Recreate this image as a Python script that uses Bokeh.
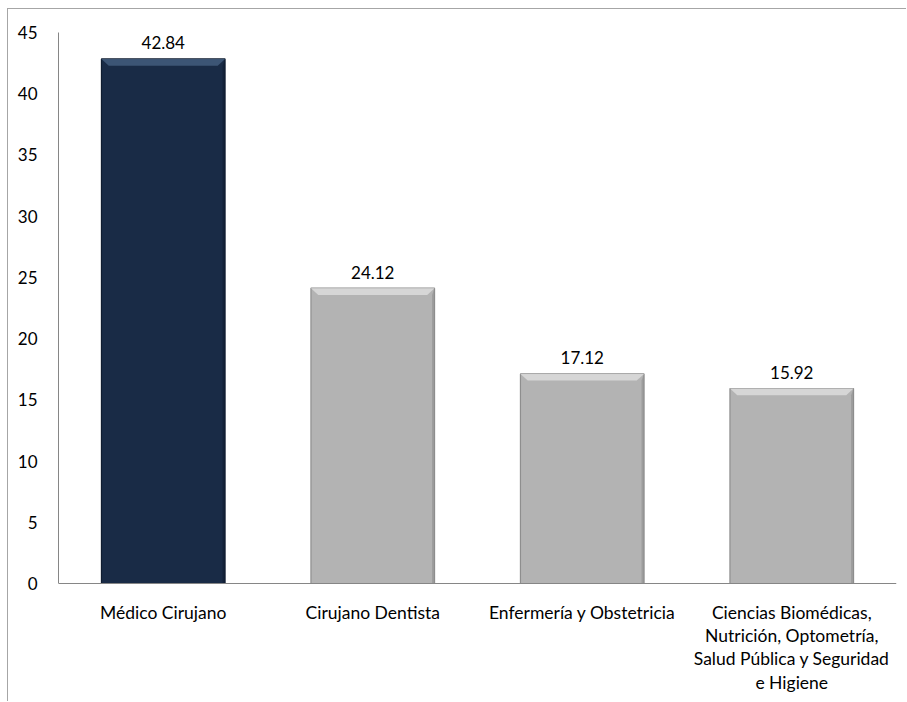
from bokeh.plotting import figure
from bokeh.models import Range1d, FixedTicker, LabelSet, ColumnDataSource, Span
from bokeh.core.properties import value
from bokeh.embed import file_html
from bokeh.resources import INLINE

categories = ["Médico Cirujano", "Cirujano Dentista", "Enfermería y Obstetricia",
              "Ciencias Biomédicas, Nutrición, Optometría, Salud Pública y Seguridad e Higiene"]
category_lines = [["Médico Cirujano"], ["Cirujano Dentista"], ["Enfermería y Obstetricia"],
                  ["Ciencias Biomédicas,", "Nutrición, Optometría,", "Salud Pública y Seguridad", "e Higiene"]]
values = [42.84, 24.12, 17.12, 15.92]
value_labels = ["42.84", "24.12", "17.12", "15.92"]
y_ticks = [0, 5, 10, 15, 20, 25, 30, 35, 40, 45]
y_max = 45

bar_colors = ["#192b46", "#b3b3b3", "#b3b3b3", "#b3b3b3"]
edge_colors = ["#0f1c30", "#8e8e8e", "#8e8e8e", "#8e8e8e"]
bevel_colors = ["#405a7a", "#d9d9d9", "#d9d9d9", "#d9d9d9"]
FONT = "Lato"

H = 693
TOP = 23
AXIS_PX = 551  # pixel height of 0..45
frame_h = H - TOP
y_start = -y_max * (frame_h - AXIS_PX) / AXIS_PX

p = figure(width=899, height=H, output_backend="svg", toolbar_location=None,
           x_range=Range1d(0, len(categories)), y_range=Range1d(y_start, y_max),
           min_border_left=50, min_border_right=11, min_border_top=TOP, min_border_bottom=0)
p.styles = {"border-top": "1px solid #a6a6a6", "border-left": "1px solid #a6a6a6",
            "margin-left": "7px", "margin-top": "8px"}
p.outline_line_color = None
p.grid.grid_line_color = None
p.background_fill_color = "white"
p.border_fill_color = "white"
p.xaxis.visible = False

# y axis
p.yaxis.ticker = FixedTicker(ticks=y_ticks)
p.yaxis.bounds = (0, y_max)
p.yaxis.major_tick_out = 0
p.yaxis.major_tick_in = 0
p.yaxis.minor_tick_out = 0
p.yaxis.minor_tick_in = 0
p.yaxis.major_label_standoff = 21
p.yaxis.axis_line_color = "#868686"
p.yaxis.major_label_text_font = FONT
p.yaxis.major_label_text_font_size = "17px"
p.yaxis.major_label_text_color = "#000000"

# baseline
p.add_layout(Span(location=0, dimension="width", line_color="#868686", line_width=1))

xs = [i + 0.5 for i in range(len(categories))]
bw = 0.59
half = bw / 2

src = ColumnDataSource(dict(x=xs, top=values, color=bar_colors, edge=edge_colors,
                            lab=value_labels))
p.vbar(x="x", top="top", bottom=0, width=bw, fill_color="color", line_color="edge",
       line_width=1.2, source=src)

bev_xs, bev_ys, side_xs, side_ys = [], [], [], []
inset = 0.035
depth = 0.55
for x, v in zip(xs, values):
    bev_xs.append([x - half, x + half, x + half - inset, x - half + inset])
    bev_ys.append([v, v, v - depth, v - depth])
    side_xs.append([x + half, x + half, x + half - 0.012, x + half - 0.012])
    side_ys.append([v, 0, 0, v - depth])
p.patches(bev_xs, bev_ys, fill_color=bevel_colors, line_color=None, fill_alpha=0.9)
p.patches(side_xs, side_ys, fill_color=edge_colors, line_color=None, fill_alpha=0.6)

p.add_layout(LabelSet(x="x", y="top", text="lab", source=src, y_offset=16,
                      text_align="center", text_baseline="middle",
                      text_font=value(FONT), text_font_size="17px", text_color="#000000"))

lx, ly, lt, loff = [], [], [], []
for x, lines in zip(xs, category_lines):
    for k, line in enumerate(lines):
        lx.append(x)
        ly.append(0)
        lt.append(line)
        loff.append(29 + 23.2 * k)
lsrc = ColumnDataSource(dict(x=lx, y=ly, t=lt, off=loff))
p.text(x="x", y="y", text="t", y_offset="off", source=lsrc,
       text_align="center", text_baseline="middle",
       text_font=value(FONT), text_font_size="17.5px", text_color="#000000")

open("out.html", "w").write(file_html(p, INLINE))
